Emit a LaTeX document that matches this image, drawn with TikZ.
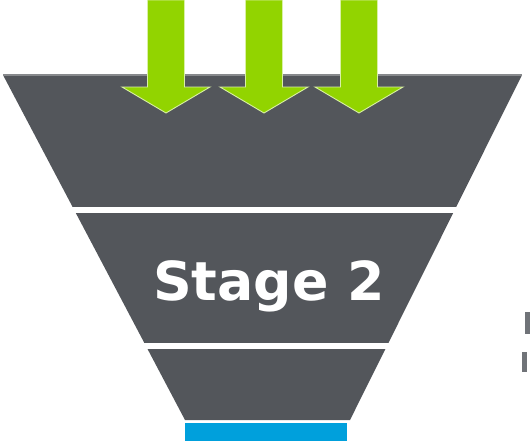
\documentclass[tikz,border=0pt]{standalone}
\usepackage{fontspec}
\newfontfamily\stagefont{DejaVu Sans}
\definecolor{funnel}{HTML}{53565B}
\definecolor{arrowgreen}{HTML}{92D400}
\definecolor{outblue}{HTML}{00A0DC}
\definecolor{markgray}{HTML}{707378}
\begin{document}
\begin{tikzpicture}[x=0.02cm,y=-0.02cm]
	\useasboundingbox (0,0) rectangle (530,441);
	%FUNNEL
	\coordinate (TL) at (3,75);
	\coordinate (TR) at (522,75);
	\coordinate (BL) at (185,420);
	\coordinate (BR) at (350,420);
	\fill[funnel] (TL) -- (TR) -- (BR) -- (BL) -- cycle;
	\draw[funnel!70!white,line width=0.6pt] (TL) -- (TR);
	%cuts between the stages
	\fill[white] (0,207) rectangle (530,213);
	\fill[white] (0,343) rectangle (530,349);
	%output bar
	\fill[outblue] (185,423) rectangle (347,441);
	%input arrows
	\foreach \x in {166,264,359}
	  \filldraw[fill=arrowgreen,draw=white!65!arrowgreen,line width=0.5pt] (\x-18.5,0) -- (\x+18.5,0) -- (\x+18.5,87) -- (\x+44,87) -- (\x,113) -- (\x-44,87) -- (\x-18.5,87) -- cycle;
	\node[anchor=base,inner sep=0pt,text=white,font=\stagefont\bfseries\fontsize{30.6}{32}\selectfont] (stage) at (269,300) {Stage 2};
	%marks at the right border
	\fill[markgray] (525,312) rectangle (530,334);
	\fill[markgray] (522,352) rectangle (527,372);
\end{tikzpicture}
\end{document}
